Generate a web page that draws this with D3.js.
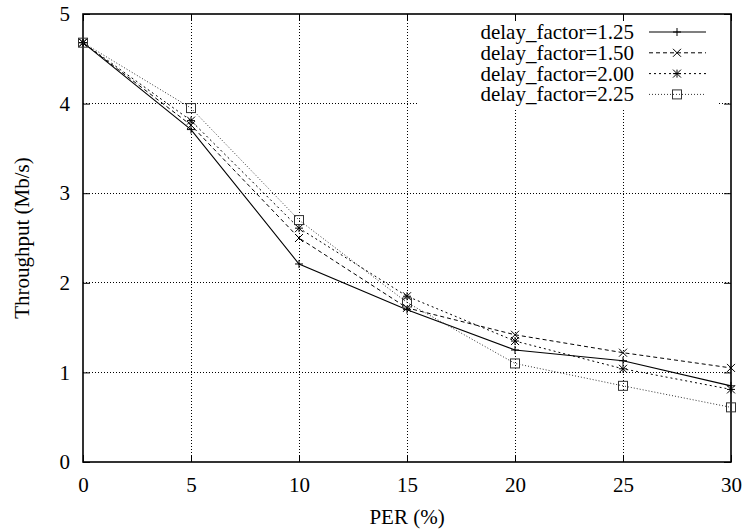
<!DOCTYPE html>
<html>
<head>
<meta charset="utf-8">
<script src="https://cdn.jsdelivr.net/npm/d3@7"></script>
<style>
  html, body { margin: 0; padding: 0; background: #fff; }
  svg { display: block; }
  text { font-family: "Liberation Serif", "Times New Roman", serif; fill: #000; }
</style>
</head>
<body>
<svg id="chart" width="747" height="529"></svg>
<script>
// PER values (%) on the x axis
const per = [0, 5, 10, 15, 20, 25, 30];

// Throughput (Mb/s) for each delay factor
const df125 = [4.68, 3.71, 2.21, 1.70, 1.25, 1.13, 0.85];
const df150 = [4.68, 3.76, 2.50, 1.72, 1.42, 1.22, 1.05];
const df200 = [4.68, 3.81, 2.61, 1.85, 1.35, 1.04, 0.81];
const df225 = [4.68, 3.95, 2.70, 1.78, 1.10, 0.85, 0.61];

const seriesNames = ["delay_factor=1.25", "delay_factor=1.50", "delay_factor=2.00", "delay_factor=2.25"];
const xTicks = [0, 5, 10, 15, 20, 25, 30];
const yTicks = [0, 1, 2, 3, 4, 5];

const series = [
  { name: seriesNames[0], values: df125, dash: null,  marker: "plus",   width: 1.1, color: "#000" },
  { name: seriesNames[1], values: df150, dash: "4,3", marker: "cross",  width: 1.0, color: "#000" },
  { name: seriesNames[2], values: df200, dash: "2,3", marker: "star",   width: 1.0, color: "#000" },
  { name: seriesNames[3], values: df225, dash: "1,2", marker: "square", width: 1.0, color: "#333" }
];

const svg = d3.select("#chart");
const plotL = 83, plotR = 731, plotT = 14, plotB = 462;

const x = d3.scaleLinear().domain([0, 30]).range([plotL, plotR]);
const y = d3.scaleLinear().domain([0, 5]).range([plotB, plotT]);

// Grid
const grid = svg.append("g").attr("stroke", "#000").attr("stroke-width", 1)
  .attr("stroke-dasharray", "1,2").attr("shape-rendering", "crispEdges");
xTicks.slice(1, -1).forEach(t => {
  grid.append("line").attr("x1", x(t)).attr("x2", x(t)).attr("y1", plotT).attr("y2", plotB);
});
yTicks.slice(1, -1).forEach(t => {
  grid.append("line").attr("x1", plotL).attr("x2", plotR).attr("y1", y(t)).attr("y2", y(t));
});

// Legend background covers the grid behind the key
svg.append("rect").attr("x", 417).attr("y", plotT + 1).attr("width", 302).attr("height", 93).attr("fill", "#fff");

// Axes with inward ticks on all four sides
const tickLen = 7;
const fmt = d3.format("d");
svg.append("g").attr("transform", `translate(0,${plotB})`)
  .call(d3.axisBottom(x).tickValues(xTicks).tickFormat(fmt).tickSize(-tickLen).tickPadding(15))
  .call(g => { g.select(".domain").remove(); g.selectAll("text").attr("font-size", 21).attr("font-family", "Liberation Serif"); });
svg.append("g").attr("transform", `translate(0,${plotT})`)
  .call(d3.axisTop(x).tickValues(xTicks).tickSize(-tickLen).tickFormat(""))
  .call(g => g.select(".domain").remove());
svg.append("g").attr("transform", `translate(${plotL},0)`)
  .call(d3.axisLeft(y).tickValues(yTicks).tickFormat(fmt).tickSize(-tickLen).tickPadding(13))
  .call(g => { g.select(".domain").remove(); g.selectAll("text").attr("font-size", 21).attr("font-family", "Liberation Serif"); });
svg.append("g").attr("transform", `translate(${plotR},0)`)
  .call(d3.axisRight(y).tickValues(yTicks).tickSize(-tickLen).tickFormat(""))
  .call(g => g.select(".domain").remove());
svg.selectAll(".tick line").attr("stroke", "#000").attr("stroke-width", 1);

// Frame
svg.append("rect").attr("x", plotL).attr("y", plotT).attr("width", plotR - plotL).attr("height", plotB - plotT)
  .attr("fill", "none").attr("stroke", "#000").attr("stroke-width", 1.6);

// Axis titles
svg.append("text").attr("x", (plotL + plotR) / 2).attr("y", 524).attr("text-anchor", "middle")
  .attr("font-size", 21).text("PER (%)");
svg.append("text").attr("transform", `translate(29,${(plotT + plotB) / 2}) rotate(-90)`)
  .attr("text-anchor", "middle").attr("font-size", 21).text("Throughput (Mb/s)");

// Marker drawing
function drawMarker(g, type, cx, cy, color) {
  const s = 4;
  const m = g.append("g").attr("stroke", color).attr("stroke-width", 1).attr("fill", "none");
  if (type === "plus" || type === "star") {
    m.append("line").attr("x1", cx - s).attr("x2", cx + s).attr("y1", cy).attr("y2", cy);
    m.append("line").attr("x1", cx).attr("x2", cx).attr("y1", cy - s).attr("y2", cy + s);
  }
  if (type === "cross" || type === "star") {
    m.append("line").attr("x1", cx - s).attr("x2", cx + s).attr("y1", cy - s).attr("y2", cy + s);
    m.append("line").attr("x1", cx - s).attr("x2", cx + s).attr("y1", cy + s).attr("y2", cy - s);
  }
  if (type === "square") {
    m.append("rect").attr("x", cx - 4.5).attr("y", cy - 4.5).attr("width", 9).attr("height", 9);
  }
}

// Series lines and markers
const line = d3.line().x((d, i) => x(per[i])).y(d => y(d));
series.forEach(s => {
  svg.append("path").datum(s.values).attr("d", line).attr("fill", "none")
    .attr("stroke", s.color).attr("stroke-width", s.width)
    .attr("stroke-dasharray", s.dash);
  const mg = svg.append("g");
  s.values.forEach((v, i) => drawMarker(mg, s.marker, x(per[i]), y(v), s.color));
});

// Legend
const legend = svg.append("g");
series.forEach((s, i) => {
  const ly = 32 + i * 20.8;
  legend.append("text").attr("x", 634).attr("y", ly + 7).attr("text-anchor", "end")
    .attr("font-size", 21).text(s.name);
  legend.append("line").attr("x1", 649).attr("x2", 706).attr("y1", ly).attr("y2", ly)
    .attr("stroke", s.color).attr("stroke-width", s.width).attr("stroke-dasharray", s.dash);
  drawMarker(legend, s.marker, 677, ly, s.color);
});
</script>
</body>
</html>
